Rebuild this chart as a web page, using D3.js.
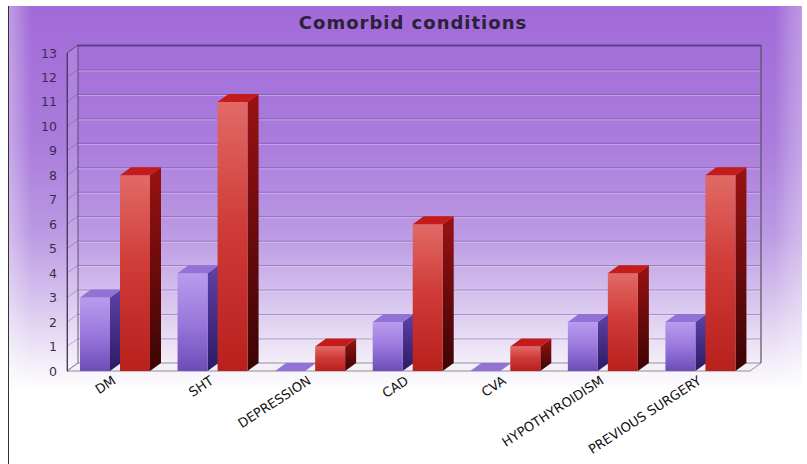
<!DOCTYPE html>
<html>
<head>
<meta charset="utf-8">
<script src="https://cdn.jsdelivr.net/npm/d3@7"></script>
<style>
	body { margin: 0; background: #fff; }
	text { font-family: 'DejaVu Sans', sans-serif; }
</style>
</head>
<body>
<svg width="807" height="464"></svg>
<script>
const categories = [ 'DM', 'SHT', 'DEPRESSION', 'CAD', 'CVA', 'HYPOTHYROIDISM', 'PREVIOUS SURGERY' ];
const purpleValues = [ 3, 4, 0, 2, 0, 2, 2 ];
const redValues = [ 8, 11, 1, 6, 1, 4, 8 ];
const yTicks = [ 0, 1, 2, 3, 4, 5, 6, 7, 8, 9, 10, 11, 12, 13 ];
const title = 'Comorbid conditions';

const svg = d3.select('svg');
const defs = svg.append('defs');

// depth of the 3d look
const dx = 11;
const dy = -8;

const frontLeft = 67;
const backLeft = frontLeft + dx;
const backRight = 761;

const yScale = d3.scaleLinear().domain([ 0, 13 ]).range([ 371, 53 ]);
const xScale = d3.scaleBand().domain(categories).range([ backLeft, backRight ]).padding(0);
const inner = d3.scaleBand().domain([ 'a', 'b' ]).range([ 2, 72 ]).paddingInner(0.25).paddingOuter(0);

function grad (id, x2, y2, stops) {
	const g = defs.append('linearGradient').attr('id', id).attr('x1', 0).attr('y1', 0).attr('x2', x2).attr('y2', y2);
	stops.forEach((s) => g.append('stop').attr('offset', s[0]).attr('stop-color', s[1]));
}

grad('bg', 0, 1, [ [ 0, '#a16ad8' ], [ 0.3, '#aa7cdc' ], [ 0.5, '#bc9ae3' ], [ 0.65, '#d8c6ee' ], [ 0.77, '#f1ebf8' ], [ 0.84, '#ffffff' ], [ 1, '#ffffff' ] ]);
grad('edges', 1, 0, [ [ 0, 'rgba(255,255,255,0.35)' ], [ 0.03, 'rgba(255,255,255,0)' ], [ 0.965, 'rgba(255,255,255,0)' ], [ 0.985, 'rgba(255,255,255,0.2)' ], [ 1, 'rgba(255,255,255,0.3)' ] ]);
grad('pFront', 0, 1, [ [ 0, '#b99cee' ], [ 0.5, '#9a78dc' ], [ 1, '#6c4cb8' ] ]);
grad('pSide', 0, 1, [ [ 0, '#5e42a6' ], [ 1, '#2c1a66' ] ]);
grad('rFront', 0, 1, [ [ 0, '#e16a66' ], [ 0.45, '#d03c38' ], [ 1, '#b8201c' ] ]);
grad('rSide', 0, 1, [ [ 0, '#9a1212' ], [ 1, '#3c0404' ] ]);

// background
svg.append('rect').attr('x', 8).attr('y', 6).attr('width', 794).attr('height', 458).attr('fill', 'url(#bg)');
svg.append('rect').attr('x', 8).attr('y', 6).attr('width', 794).attr('height', 458).attr('fill', 'url(#edges)');
svg.append('line').attr('x1', 8.5).attr('y1', 6).attr('x2', 8.5).attr('y2', 464).attr('stroke', '#333').attr('stroke-width', 1);

// title
svg
	.append('text')
	.attr('x', 413)
	.attr('y', 29)
	.attr('text-anchor', 'middle')
	.attr('font-size', 18)
	.attr('font-weight', 'bold')
	.attr('letter-spacing', 1)
	.attr('fill', '#2b2138')
	.text(title);

const chart = svg.append('g');
const y0 = yScale(0);
const yTop = yScale(13);

// left wall and floor
chart
	.append('path')
	.attr('d', `M${frontLeft},${yTop}L${backLeft},${yTop + dy}L${backLeft},${y0 + dy}L${frontLeft},${y0}Z`)
	.attr('fill', 'rgba(255,255,255,0.12)')
	.attr('stroke', '#4a3a60')
	.attr('stroke-width', 0.8);

chart
	.append('path')
	.attr('d', `M${frontLeft},${y0}L${backLeft},${y0 + dy}L${backRight},${y0 + dy}L${backRight - dx},${y0}Z`)
	.attr('fill', '#f3eff8')
	.attr('stroke', '#777')
	.attr('stroke-width', 0.8);

// grid lines on back wall
const grid = chart.append('g');
grid
	.selectAll('line.dark')
	.data(yTicks.filter((d) => d > 0))
	.enter()
	.append('line')
	.attr('x1', backLeft)
	.attr('x2', backRight)
	.attr('y1', (d) => yScale(d) + dy + 0.5)
	.attr('y2', (d) => yScale(d) + dy + 0.5)
	.attr('stroke', (d) => (d === 13 ? 'rgba(70,40,110,0.7)' : 'rgba(90,60,140,0.45)'))
	.attr('stroke-width', (d) => (d === 13 ? 2 : 1));
grid
	.selectAll('line.light')
	.data(yTicks.filter((d) => d > 0 && d < 13))
	.enter()
	.append('line')
	.attr('x1', backLeft)
	.attr('x2', backRight)
	.attr('y1', (d) => yScale(d) + dy + 1.5)
	.attr('y2', (d) => yScale(d) + dy + 1.5)
	.attr('stroke', 'rgba(255,255,255,0.35)');
grid
	.selectAll('line.side')
	.data(yTicks.filter((d) => d > 0 && d < 13))
	.enter()
	.append('line')
	.attr('x1', frontLeft)
	.attr('x2', backLeft)
	.attr('y1', (d) => yScale(d))
	.attr('y2', (d) => yScale(d) + dy)
	.attr('stroke', 'rgba(90,60,140,0.35)');

// right edge of back wall
chart
	.append('line')
	.attr('x1', backRight)
	.attr('x2', backRight)
	.attr('y1', yTop + dy)
	.attr('y2', y0 + dy)
	.attr('stroke', '#555')
	.attr('stroke-width', 1.2);

// y axis
const yAxis = chart
	.append('g')
	.attr('transform', `translate(${frontLeft}, 0)`)
	.call(d3.axisLeft(yScale).tickValues(yTicks).tickSize(0).tickPadding(10));
yAxis.select('.domain').attr('stroke', '#4a3a60').attr('stroke-width', 1);
yAxis.selectAll('text').attr('font-size', 12.5).attr('fill', '#3a2c50').attr('font-family', "'DejaVu Sans', sans-serif");

// bars
const rows = categories.map((c, i) => ({ cat: c, a: purpleValues[i], b: redValues[i] }));
const series = [
	{ key: 'a', front: 'url(#pFront)', side: 'url(#pSide)', top: '#9272d6' },
	{ key: 'b', front: 'url(#rFront)', side: 'url(#rSide)', top: '#c41c1a' }
];
const w = inner.bandwidth();

const bars = [];
rows.forEach((r) => series.forEach((s) => bars.push({ cat: r.cat, value: r[s.key], s: s })));

const barG = chart.selectAll('g.bar').data(bars).enter().append('g').attr('class', 'bar');

barG.each(function (d) {
	const g = d3.select(this);
	const x = xScale(d.cat) + inner(d.s.key);
	const yv = yScale(d.value);
	const h = y0 - yv;
	if (h > 0) {
		g
			.append('path')
			.attr('d', `M${x + w},${yv}L${x + w + dx},${yv + dy}L${x + w + dx},${y0 + dy}L${x + w},${y0}Z`)
			.attr('fill', d.s.side);
		g.append('rect').attr('x', x).attr('y', yv).attr('width', w).attr('height', h).attr('fill', d.s.front);
	}
	g
		.append('path')
		.attr('d', `M${x},${yv}L${x + dx},${yv + dy}L${x + w + dx},${yv + dy}L${x + w},${yv}Z`)
		.attr('fill', d.s.top);
});

// category labels
chart
	.selectAll('text.cat')
	.data(categories)
	.enter()
	.append('text')
	.attr('class', 'cat')
	.attr('text-anchor', 'end')
	.attr('font-size', 13)
	.attr('fill', '#111')
	.attr('transform', (d) => `translate(${xScale(d) + xScale.bandwidth() / 2 - 10}, 383) rotate(-33)`)
	.text((d) => d);
</script>
</body>
</html>
